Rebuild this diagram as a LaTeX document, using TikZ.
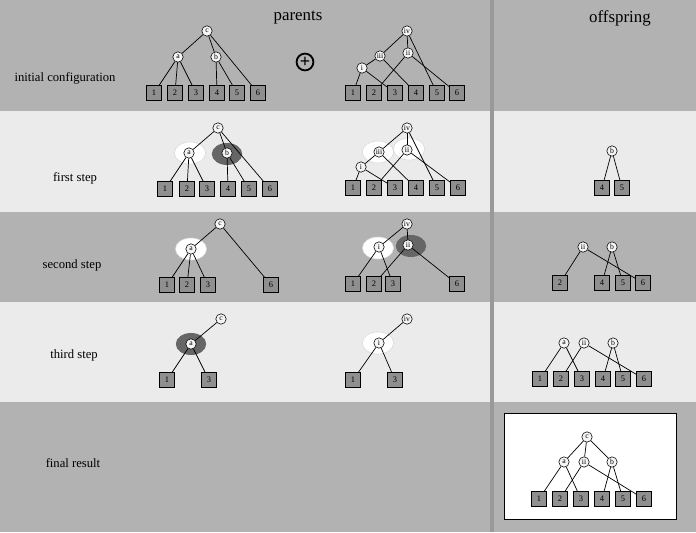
\documentclass[tikz,border=0pt]{standalone}
\usepackage{fontspec}
\setmainfont{Liberation Serif}
\usetikzlibrary{shapes.geometric}

\definecolor{bandgray}{gray}{0.70}
\definecolor{bandlight}{gray}{0.92}
\definecolor{divgray}{gray}{0.60}
\definecolor{leafgray}{gray}{0.56}
\definecolor{markdark}{gray}{0.40}

\tikzstyle{treenode} = [circle, draw, fill=white!96!black, inner sep=0pt,
     minimum size=0.26cm, font=\fontsize{5.5}{6}\selectfont]
\tikzstyle{leafbox} = [rectangle, draw, fill=leafgray, inner sep=0pt,
     minimum size=0.37cm, font=\fontsize{6}{7}\selectfont]
\tikzstyle{link} = [draw, line width=0.5pt]
\tikzstyle{lightmark} = [ellipse, fill=white, draw=gray!30, minimum width=0.78cm, minimum height=0.55cm]
\tikzstyle{darkmark} = [ellipse, fill=markdark, minimum width=0.76cm, minimum height=0.55cm]
\tikzstyle{rowlabel} = [font=\fontsize{9}{11}\selectfont]

\begin{document}
\begin{tikzpicture}[x=0.025cm, y=-0.025cm]
\useasboundingbox (0,0) rectangle (696,532);
\fill[bandgray] (0,0) rectangle (696,111);
\fill[bandlight] (0,111) rectangle (696,212);
\fill[bandgray] (0,212) rectangle (696,302);
\fill[bandlight] (0,302) rectangle (696,402);
\fill[bandgray] (0,402) rectangle (696,532);
\fill[divgray] (490,0) rectangle (494,532);

\node[font=\fontsize{12}{14}\selectfont](parents) at (298,18) {parents};
\node[font=\fontsize{12}{14}\selectfont](offspring) at (620,18) {offspring};

\node[rowlabel](lab_init) at (65,78) {initial configuration};
\node[rowlabel](lab_first) at (75,178) {first step};
\node[rowlabel](lab_second) at (72,265) {second step};
\node[rowlabel](lab_third) at (74,355) {third step};
\node[rowlabel](lab_final) at (73,463) {final result};

% initial configuration
\node[treenode](r1Lc) at (207,31) {c};
\node[treenode](r1La) at (178,57) {a};
\node[treenode](r1Lb) at (216,57) {b};
\node[leafbox](r1L1) at (154,93) {1};
\node[leafbox](r1L2) at (175,93) {2};
\node[leafbox](r1L3) at (196,93) {3};
\node[leafbox](r1L4) at (217,93) {4};
\node[leafbox](r1L5) at (237,93) {5};
\node[leafbox](r1L6) at (258,93) {6};
\path[link] (r1Lc)--(r1La);
\path[link] (r1Lc)--(r1Lb);
\path[link] (r1Lc)--(r1L6);
\path[link] (r1La)--(r1L1);
\path[link] (r1La)--(r1L2);
\path[link] (r1La)--(r1L3);
\path[link] (r1Lb)--(r1L4);
\path[link] (r1Lb)--(r1L5);

\node[circle, draw, line width=1.3pt, inner sep=0pt, minimum size=0.42cm,
      font=\fontsize{13}{13}\selectfont\bfseries](plus) at (305,62) {+};

\node[treenode](r1Riv) at (407,31) {iv};
\node[treenode](r1Riii) at (380,56) {iii};
\node[treenode](r1Rii) at (408,53) {ii};
\node[treenode](r1Ri) at (362,68) {i};
\node[leafbox](r1R1) at (353,93) {1};
\node[leafbox](r1R2) at (374,93) {2};
\node[leafbox](r1R3) at (395,93) {3};
\node[leafbox](r1R4) at (416,93) {4};
\node[leafbox](r1R5) at (437,93) {5};
\node[leafbox](r1R6) at (457,93) {6};
\path[link] (r1Riv)--(r1Riii);
\path[link] (r1Riv)--(r1Rii);
\path[link] (r1Riv)--(r1R5);
\path[link] (r1Riii)--(r1Ri);
\path[link] (r1Riii)--(r1R4);
\path[link] (r1Rii)--(r1R2);
\path[link] (r1Rii)--(r1R6);
\path[link] (r1Ri)--(r1R1);
\path[link] (r1Ri)--(r1R3);

% first step
\node[lightmark](r2Lma) at (190,153) {};
\node[darkmark](r2Lmb) at (227,154) {};
\node[treenode](r2Lc) at (218,128) {c};
\node[treenode](r2La) at (189,153) {a};
\node[treenode](r2Lb) at (227,153) {b};
\node[leafbox](r2L1) at (165,189) {1};
\node[leafbox](r2L2) at (187,189) {2};
\node[leafbox](r2L3) at (207,189) {3};
\node[leafbox](r2L4) at (228,189) {4};
\node[leafbox](r2L5) at (249,189) {5};
\node[leafbox](r2L6) at (270,189) {6};
\path[link] (r2Lc)--(r2La);
\path[link] (r2Lc)--(r2Lb);
\path[link] (r2Lc)--(r2L6);
\path[link] (r2La)--(r2L1);
\path[link] (r2La)--(r2L2);
\path[link] (r2La)--(r2L3);
\path[link] (r2Lb)--(r2L4);
\path[link] (r2Lb)--(r2L5);

\node[lightmark](r2Rmiii) at (378,152) {};
\node[lightmark](r2Rmii) at (409,149) {};
\node[treenode](r2Riv) at (407,128) {iv};
\node[treenode](r2Riii) at (379,152) {iii};
\node[treenode](r2Rii) at (407,150) {ii};
\node[treenode](r2Ri) at (361,167) {i};
\node[leafbox](r2R1) at (353,188) {1};
\node[leafbox](r2R2) at (374,188) {2};
\node[leafbox](r2R3) at (395,188) {3};
\node[leafbox](r2R4) at (416,188) {4};
\node[leafbox](r2R5) at (437,188) {5};
\node[leafbox](r2R6) at (458,188) {6};
\path[link] (r2Riv)--(r2Riii);
\path[link] (r2Riv)--(r2Rii);
\path[link] (r2Riv)--(r2R5);
\path[link] (r2Riii)--(r2Ri);
\path[link] (r2Riii)--(r2R4);
\path[link] (r2Rii)--(r2R2);
\path[link] (r2Rii)--(r2R6);
\path[link] (r2Ri)--(r2R1);
\path[link] (r2Ri)--(r2R3);

\node[treenode](r2Ob) at (612,151) {b};
\node[leafbox](r2O4) at (602,188) {4};
\node[leafbox](r2O5) at (622,188) {5};
\path[link] (r2Ob)--(r2O4);
\path[link] (r2Ob)--(r2O5);

% second step
\node[lightmark](r3Lma) at (191,249) {};
\node[treenode](r3Lc) at (220,224) {c};
\node[treenode](r3La) at (191,249) {a};
\node[leafbox](r3L1) at (167,285) {1};
\node[leafbox](r3L2) at (187,285) {2};
\node[leafbox](r3L3) at (208,285) {3};
\node[leafbox](r3L6) at (271,285) {6};
\path[link] (r3Lc)--(r3La);
\path[link] (r3Lc)--(r3L6);
\path[link] (r3La)--(r3L1);
\path[link] (r3La)--(r3L2);
\path[link] (r3La)--(r3L3);

\node[lightmark](r3Rmi) at (378,248) {};
\node[darkmark](r3Rmii) at (411,246) {};
\node[treenode](r3Riv) at (407,224) {iv};
\node[treenode](r3Ri) at (379,247) {i};
\node[treenode](r3Rii) at (408,245) {ii};
\node[leafbox](r3R1) at (353,284) {1};
\node[leafbox](r3R2) at (374,284) {2};
\node[leafbox](r3R3) at (393,284) {3};
\node[leafbox](r3R6) at (457,284) {6};
\path[link] (r3Riv)--(r3Ri);
\path[link] (r3Riv)--(r3Rii);
\path[link] (r3Ri)--(r3R1);
\path[link] (r3Ri)--(r3R3);
\path[link] (r3Rii)--(r3R2);
\path[link] (r3Rii)--(r3R6);

\node[treenode](r3Oii) at (583,247) {ii};
\node[treenode](r3Ob) at (612,247) {b};
\node[leafbox](r3O2) at (560,283) {2};
\node[leafbox](r3O4) at (602,283) {4};
\node[leafbox](r3O5) at (623,283) {5};
\node[leafbox](r3O6) at (643,283) {6};
\path[link] (r3Oii)--(r3O2);
\path[link] (r3Oii)--(r3O6);
\path[link] (r3Ob)--(r3O4);
\path[link] (r3Ob)--(r3O5);

% third step
\node[darkmark](r4Lma) at (191,344) {};
\node[treenode](r4Lc) at (221,319) {c};
\node[treenode](r4La) at (191,344) {a};
\node[leafbox](r4L1) at (167,380) {1};
\node[leafbox](r4L3) at (209,380) {3};
\path[link] (r4Lc)--(r4La);
\path[link] (r4La)--(r4L1);
\path[link] (r4La)--(r4L3);

\node[lightmark](r4Rmi) at (378,343) {};
\node[treenode](r4Riv) at (407,319) {iv};
\node[treenode](r4Ri) at (379,343) {i};
\node[leafbox](r4R1) at (353,380) {1};
\node[leafbox](r4R3) at (395,380) {3};
\path[link] (r4Riv)--(r4Ri);
\path[link] (r4Ri)--(r4R1);
\path[link] (r4Ri)--(r4R3);

\node[treenode](r4Oa) at (564,343) {a};
\node[treenode](r4Oii) at (584,343) {ii};
\node[treenode](r4Ob) at (613,343) {b};
\node[leafbox](r4O1) at (540,379) {1};
\node[leafbox](r4O2) at (561,379) {2};
\node[leafbox](r4O3) at (582,379) {3};
\node[leafbox](r4O4) at (603,379) {4};
\node[leafbox](r4O5) at (623,379) {5};
\node[leafbox](r4O6) at (644,379) {6};
\path[link] (r4Oa)--(r4O1);
\path[link] (r4Oa)--(r4O3);
\path[link] (r4Oii)--(r4O2);
\path[link] (r4Oii)--(r4O6);
\path[link] (r4Ob)--(r4O4);
\path[link] (r4Ob)--(r4O5);

% final result
\node[draw, fill=white, line width=0.7pt, minimum width=4.31cm, minimum height=2.67cm](result) at (590.5,466.5) {};
\node[treenode](r5c) at (587,437) {c};
\node[treenode](r5a) at (564,462) {a};
\node[treenode](r5ii) at (584,462) {ii};
\node[treenode](r5b) at (612,462) {b};
\node[leafbox](r51) at (539,499) {1};
\node[leafbox](r52) at (560,499) {2};
\node[leafbox](r53) at (581,499) {3};
\node[leafbox](r54) at (602,499) {4};
\node[leafbox](r55) at (623,499) {5};
\node[leafbox](r56) at (644,499) {6};
\path[link] (r5c)--(r5a);
\path[link] (r5c)--(r5ii);
\path[link] (r5c)--(r5b);
\path[link] (r5a)--(r51);
\path[link] (r5a)--(r53);
\path[link] (r5ii)--(r52);
\path[link] (r5ii)--(r56);
\path[link] (r5b)--(r54);
\path[link] (r5b)--(r55);
\end{tikzpicture}
\end{document}
